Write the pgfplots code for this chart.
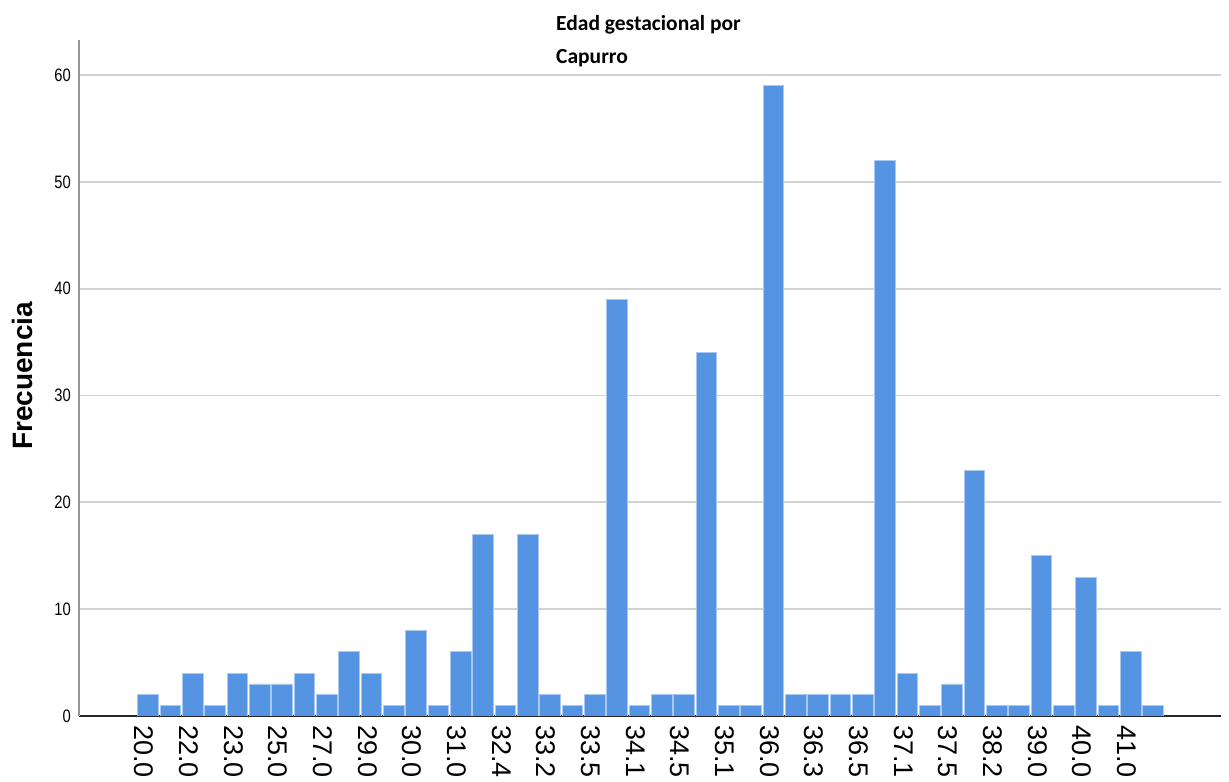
\documentclass[border=0pt]{standalone}
\usepackage{fontspec}
\setmainfont{Liberation Sans}
\newfontfamily\carlito{Carlito}
\newfontfamily\narrowfont[FakeStretch=0.82]{Liberation Sans}
\usepackage{pgfplots}
\pgfplotsset{compat=1.18}
\definecolor{barblue}{RGB}{84,148,226}
\definecolor{baredge}{RGB}{170,200,240}
\definecolor{gridgray}{RGB}{210,210,210}
\definecolor{axgray}{RGB}{150,150,150}
\begin{document}
\begin{tikzpicture}[x=1bp,y=1bp]
\useasboundingbox (0,0) rectangle (1229,782);
\begin{axis}[
  at={(79bp,66bp)}, anchor=south west,
  scale only axis, width=1142bp, height=676bp,
  xmin=-2.097, xmax=49.04, ymin=0, ymax=63.28,
  axis x line*=bottom, axis y line*=left,
  x axis line style={black!85, line width=1.3bp},
  y axis line style={axgray, line width=1.3bp},
  ytick={0,10,...,60},
  ymajorgrids, major grid style={gridgray, line width=1.8bp},
  major tick length=0pt,
  xtick={1,3,...,45},
  xticklabels={20.0,22.0,23.0,25.0,27.0,29.0,30.0,31.0,32.4,33.2,33.5,34.1,34.5,35.1,36.0,36.3,36.5,37.1,37.5,38.2,39.0,40.0,41.0},
  xticklabel style={rotate=-90, anchor=west, inner sep=0pt, font={\fontsize{27bp}{30bp}\selectfont}, xshift=9bp, yshift=-4bp},
  /pgf/number format/assume math mode=true,
  yticklabel style={anchor=east, inner sep=0pt, xshift=-8bp, font={\narrowfont\fontsize{18bp}{20bp}\selectfont}},
]
\addplot[ybar, bar width=0.93, fill=barblue, draw=baredge, line width=0.8bp] coordinates {
(1,2) (2,1) (3,4) (4,1) (5,4) (6,3) (7,3) (8,4) (9,2) (10,6)
(11,4) (12,1) (13,8) (14,1) (15,6) (16,17) (17,1) (18,17) (19,2) (20,1)
(21,2) (22,39) (23,1) (24,2) (25,2) (26,34) (27,1) (28,1) (29,59) (30,2)
(31,2) (32,2) (33,2) (34,52) (35,4) (36,1) (37,3) (38,23) (39,1) (40,1)
(41,15) (42,1) (43,13) (44,1) (45,6) (46,1)
};
\end{axis}
\node[rotate=90, font={\bfseries\fontsize{28bp}{30bp}\selectfont}] at (22,406) {Frecuencia};
\node[anchor=north west, align=left, inner sep=0pt, font={\carlito\bfseries\fontsize{21.5bp}{33bp}\selectfont}] at (556,767) {Edad gestacional por\\Capurro};
\end{tikzpicture}
\end{document}
